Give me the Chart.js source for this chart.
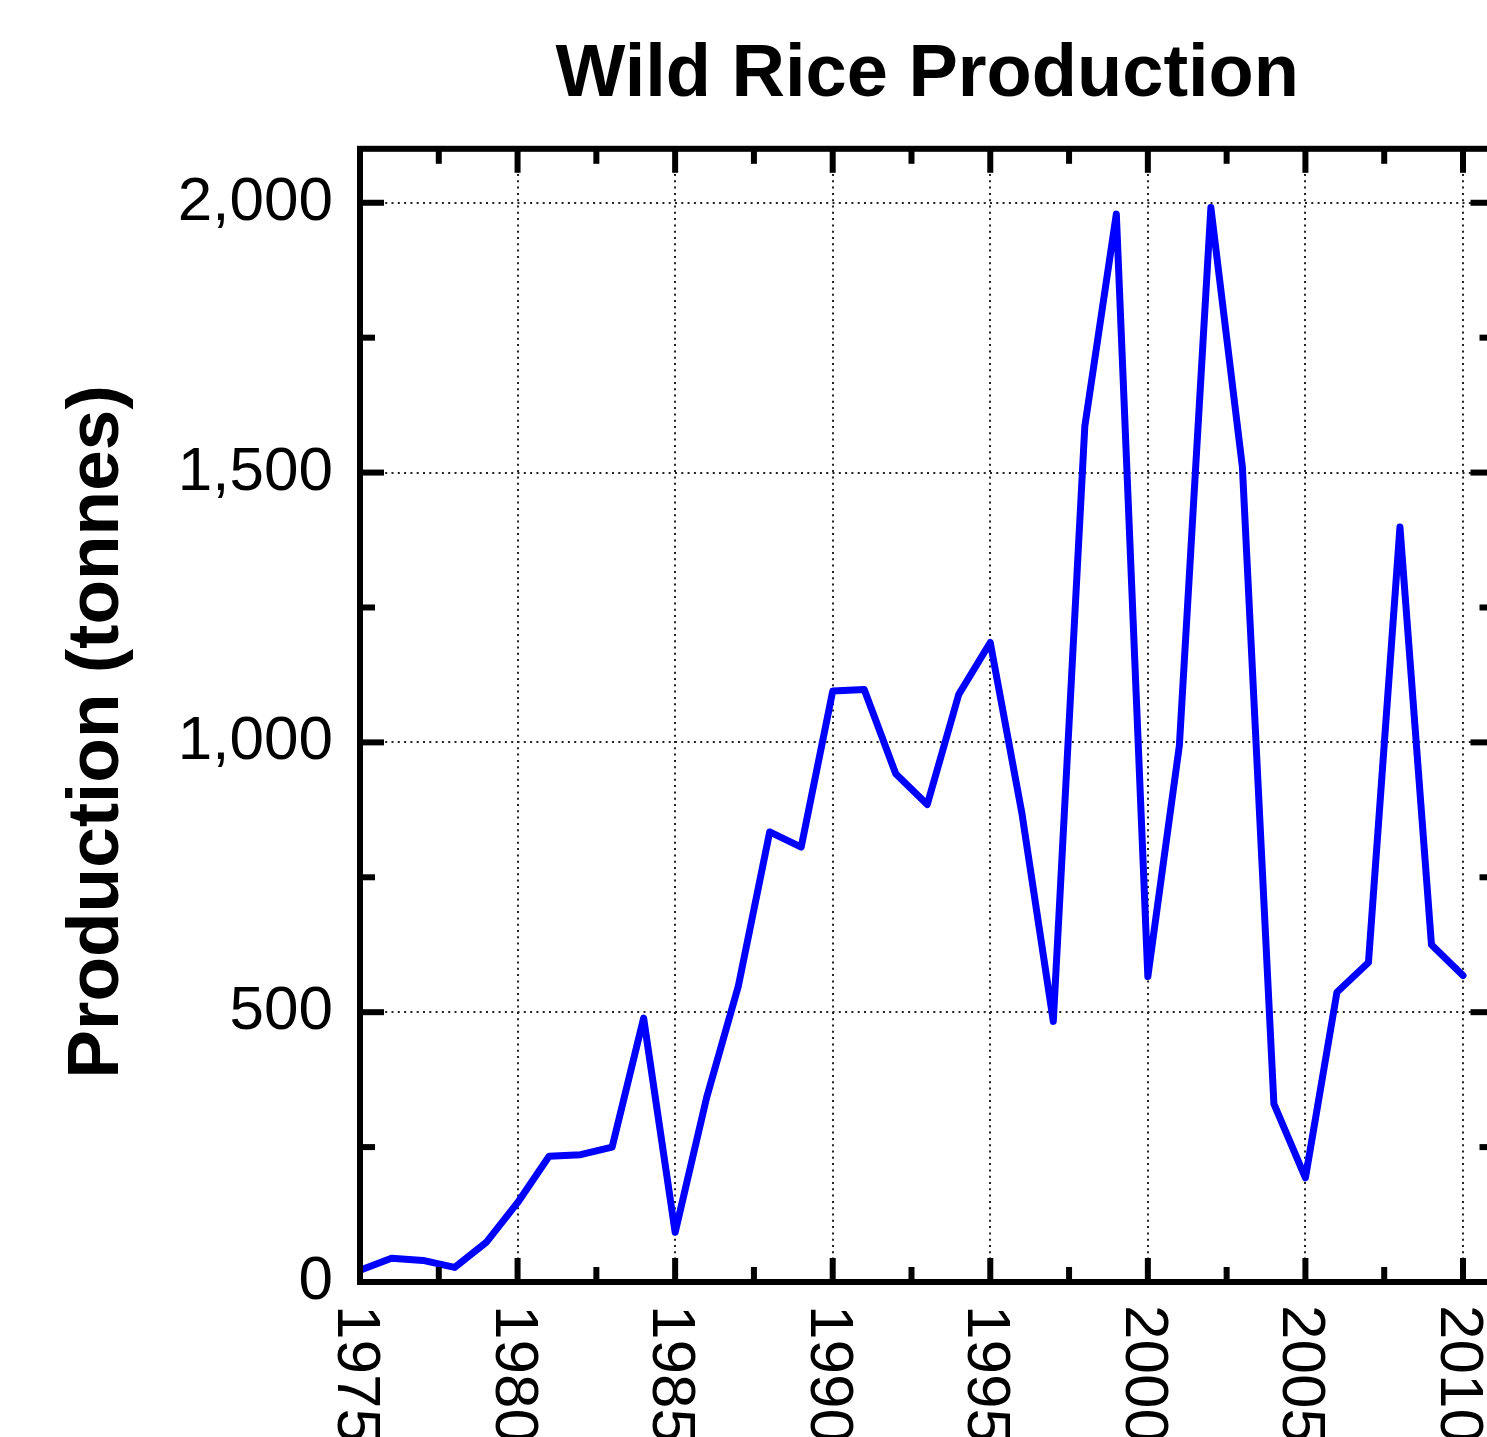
<!DOCTYPE html>
<html>
<head>
<meta charset="utf-8">
<script src="https://cdn.jsdelivr.net/npm/chart.js@4.4.1/dist/chart.umd.min.js"></script>
<style>
  html, body { margin: 0; padding: 0; overflow: hidden; background: #fff; }
  canvas { display: block; }
</style>
</head>
<body>
<canvas id="chart" width="1510" height="1500"></canvas>
<script>
// wild rice production, tonnes per year
const years = [
  1975, 1976, 1977, 1978, 1979, 1980, 1981, 1982, 1983, 1984,
  1985, 1986, 1987, 1988, 1989, 1990, 1991, 1992, 1993, 1994,
  1995, 1996, 1997, 1998, 1999, 2000, 2001, 2002, 2003, 2004,
  2005, 2006, 2007, 2008, 2009, 2010
]
const production = [
  22, 44, 40, 27, 73, 147, 233, 236, 250, 489,
  92, 342, 547, 834, 806, 1095, 1098, 942, 885, 1089,
  1185, 870, 483, 1586, 1979, 566, 994, 1991, 1510, 330,
  193, 537, 592, 1399, 625, 568
]
const xTickValues = [1975, 1980, 1985, 1990, 1995, 2000, 2005, 2010]
const yTickValues = [0, 500, 1000, 1500, 2000]
const xMinorTicks = [1977.5, 1982.5, 1987.5, 1992.5, 1997.5, 2002.5, 2007.5]
const yMinorTicks = [250, 750, 1250, 1750]

const FONT = "'Liberation Sans', Arial, Helvetica, sans-serif"
const CANVAS_H = 1500

// gnuplot-ish frame: thick border, inward ticks, rotated labels
const framePlugin = {
    id: 'frame',
    afterDatasetsDraw(chart) {
        const { ctx, chartArea: a, scales: { x, y } } = chart
        ctx.save()
        ctx.strokeStyle = '#000'
        ctx.lineWidth = 6
        ctx.lineCap = 'butt'
        ctx.strokeRect(a.left, a.top, a.right - a.left, a.bottom - a.top)

        const tick = (x1, y1, x2, y2) => {
            ctx.beginPath()
            ctx.moveTo(x1, y1)
            ctx.lineTo(x2, y2)
            ctx.stroke()
        }
        const major = 24, minor = 15
        xTickValues.forEach(v => {
            const px = x.getPixelForValue(v)
            tick(px, a.bottom, px, a.bottom - major)
            tick(px, a.top, px, a.top + major)
        })
        xMinorTicks.forEach(v => {
            const px = x.getPixelForValue(v)
            tick(px, a.bottom, px, a.bottom - minor)
            tick(px, a.top, px, a.top + minor)
        })
        yTickValues.forEach(v => {
            const py = y.getPixelForValue(v)
            tick(a.left, py, a.left + major, py)
            tick(a.right, py, a.right - major, py)
        })
        yMinorTicks.forEach(v => {
            const py = y.getPixelForValue(v)
            tick(a.left, py, a.left + minor, py)
            tick(a.right, py, a.right - minor, py)
        })

        // x labels, reading top to bottom
        ctx.fillStyle = '#000'
        ctx.font = `62px ${FONT}`
        ctx.textAlign = 'left'
        ctx.textBaseline = 'alphabetic'
        xTickValues.forEach(v => {
            const px = x.getPixelForValue(v)
            ctx.save()
            ctx.translate(px - 22, a.bottom + 23)
            ctx.rotate(Math.PI / 2)
            ctx.fillText(String(v), 0, 0)
            ctx.restore()
        })

        // y axis title
        ctx.save()
        ctx.font = `bold 73px ${FONT}`
        ctx.textAlign = 'center'
        ctx.translate(118, 732)
        ctx.rotate(-Math.PI / 2)
        ctx.fillText('Production (tonnes)', 0, 0)
        ctx.restore()

        ctx.restore()
    }
}

const ctx = document.querySelector('#chart')
new Chart(ctx, {
    type: 'line',
    data: {
        labels: years,
        datasets: [{
            label: 'Production',
            data: years.map((yr, i) => ({ x: yr, y: production[i] })),
            borderColor: '#0000ff',
            backgroundColor: '#0000ff',
            borderWidth: 7,
            pointRadius: 0,
            tension: 0,
            borderJoinStyle: 'round',
            borderCapStyle: 'round'
        }]
    },
    options: {
        responsive: false,
        animation: false,
        layout: {
            padding: { left: 0, right: 15.5, top: 0, bottom: 0 }
        },
        plugins: {
            legend: { display: false },
            tooltip: { enabled: false },
            title: {
                display: true,
                fullSize: false,
                text: 'Wild Rice Production',
                color: '#000',
                font: { family: FONT, size: 74, weight: 'bold' },
                padding: { top: 31, bottom: 29 }
            }
        },
        scales: {
            x: {
                type: 'linear',
                min: 1975,
                max: 2011,
                afterBuildTicks: scale => {
                    scale.ticks = xTickValues.map(v => ({ value: v }))
                },
                afterFit: scale => {
                    scale.height = CANVAS_H - 1282
                },
                ticks: { display: false },
                grid: {
                    color: '#222',
                    lineWidth: 2,
                    drawTicks: false
                },
                border: { display: false, dash: [2, 4.3] }
            },
            y: {
                min: 0,
                max: 2100,
                afterBuildTicks: scale => {
                    scale.ticks = yTickValues.map(v => ({ value: v }))
                },
                afterFit: scale => {
                    scale.width = 360
                },
                ticks: {
                    color: '#000',
                    padding: 27,
                    font: { family: FONT, size: 62 },
                    callback: v => v.toLocaleString('en-US')
                },
                grid: {
                    color: '#222',
                    lineWidth: 2,
                    drawTicks: false
                },
                border: { display: false, dash: [2, 4.3] }
            }
        }
    },
    plugins: [framePlugin]
})
</script>
</body>
</html>
